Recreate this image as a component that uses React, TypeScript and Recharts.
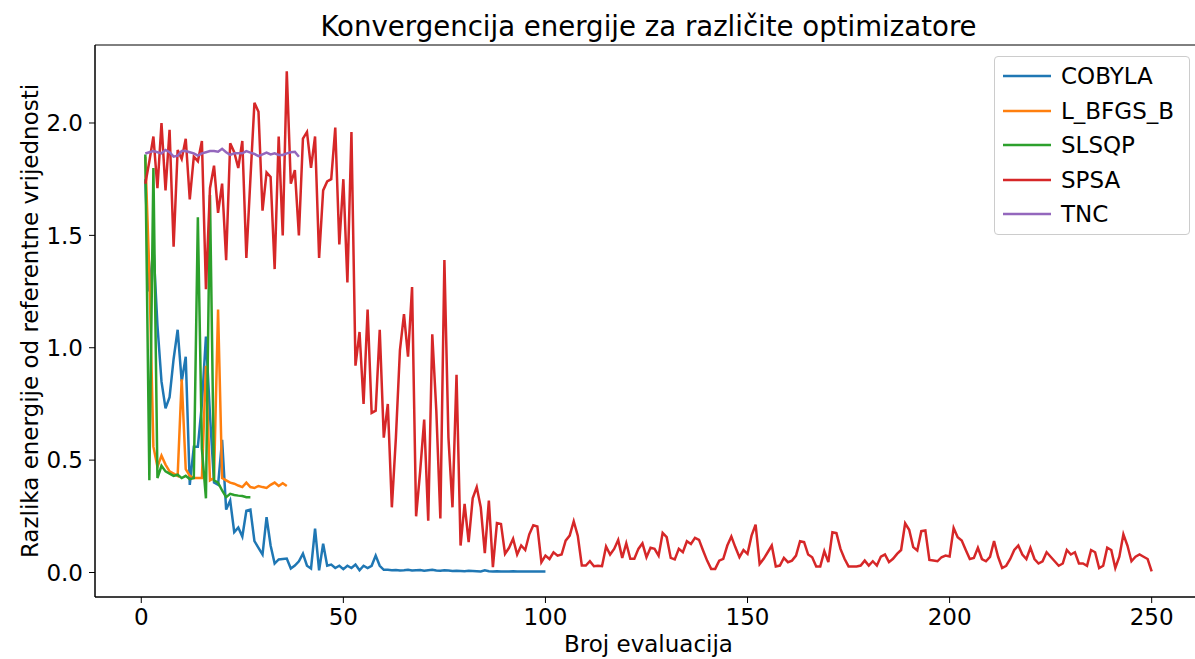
import React from "react";
import { LineChart, Line, XAxis, YAxis, ReferenceArea, Label } from "recharts";

const FONT = '"DejaVu Sans", "Liberation Sans", sans-serif';

// x ticks / y ticks
const xTicks = [0, 50, 100, 150, 200, 250];
const yTicks = [0, 0.5, 1, 1.5, 2];

// values, one per evaluation (x = 1, 2, 3 ...)
const cobyla = [
  1.75, 1.25, 1.45, 1.1, 0.85, 0.73, 0.78, 0.95, 1.08, 0.85,
  0.96, 0.39, 0.56, 0.56, 0.75, 1.05, 0.7, 0.4, 0.39, 0.59,
  0.28, 0.32, 0.18, 0.2, 0.16, 0.275, 0.28, 0.14, 0.11, 0.08,
  0.246, 0.12, 0.04, 0.058, 0.06, 0.062, 0.018, 0.031, 0.05, 0.084,
  0.03, 0.018, 0.195, 0.01, 0.128, 0.03, 0.035, 0.02, 0.03, 0.015,
  0.03, 0.02, 0.035, 0.01, 0.03, 0.02, 0.03, 0.075, 0.03, 0.012,
  0.012, 0.01, 0.011, 0.009, 0.01, 0.012, 0.009, 0.01, 0.011, 0.008,
  0.01, 0.012, 0.009, 0.008, 0.01, 0.009, 0.007, 0.008, 0.007, 0.006,
  0.008, 0.007, 0.006, 0.005, 0.01, 0.006, 0.005, 0.006, 0.005, 0.004,
  0.005, 0.006, 0.004, 0.004, 0.005, 0.004, 0.004, 0.005, 0.004, 0.004,
];

const lbfgsb = [
  1.85, 1.33, 0.56, 0.47, 0.52, 0.48, 0.45, 0.44, 0.43, 0.86,
  0.46, 0.43, 0.42, 0.42, 0.42, 0.92, 0.41, 0.42, 1.17, 0.42,
  0.41, 0.4, 0.395, 0.387, 0.38, 0.4, 0.38, 0.376, 0.385, 0.38,
  0.376, 0.39, 0.4, 0.385, 0.397, 0.385,
];

const slsqp = [
  1.86, 0.41, 1.8, 0.42, 0.475, 0.45, 0.44, 0.43, 0.435, 0.42,
  0.43, 0.415, 0.42, 1.58, 0.55, 0.33, 1.68, 0.41, 0.4, 0.365,
  0.335, 0.35, 0.345, 0.342, 0.34, 0.335, 0.335,
];

const spsa = [
  1.73, 1.83, 1.94, 1.71, 2.0, 1.7, 1.97, 1.45, 1.88, 1.84,
  1.93, 1.66, 1.85, 1.83, 1.92, 1.26, 1.71, 1.81, 1.6, 1.73,
  1.39, 1.91, 1.87, 1.8, 1.92, 1.4, 1.75, 2.09, 2.05, 1.61,
  1.78, 1.76, 1.35, 1.94, 1.5, 2.23, 1.73, 1.79, 1.5, 1.93,
  1.96, 1.8, 1.94, 1.4, 1.7, 1.74, 1.75, 1.98, 1.46, 1.75,
  1.29, 1.96, 0.92, 1.07, 0.75, 1.17, 0.71, 0.72, 1.08, 0.6,
  0.75, 0.29, 0.6, 0.99, 1.15, 0.96, 1.27, 0.25, 0.45, 0.68,
  0.23, 1.06, 0.72, 0.24, 1.39, 0.6, 0.29, 0.88, 0.12, 0.305,
  0.135, 0.33, 0.38, 0.29, 0.086, 0.32, 0.024, 0.22, 0.216, 0.083,
  0.11, 0.15, 0.08, 0.12, 0.1, 0.17, 0.21, 0.205, 0.046, 0.075,
  0.06, 0.09, 0.075, 0.08, 0.142, 0.164, 0.228, 0.164, 0.031, 0.031,
  0.05, 0.028, 0.03, 0.028, 0.116, 0.08, 0.105, 0.145, 0.065, 0.13,
  0.061, 0.061, 0.105, 0.13, 0.068, 0.11, 0.105, 0.075, 0.176, 0.157,
  0.065, 0.058, 0.105, 0.09, 0.139, 0.127, 0.154, 0.145, 0.098, 0.053,
  0.016, 0.016, 0.053, 0.061, 0.12, 0.16, 0.112, 0.068, 0.1, 0.083,
  0.164, 0.213, 0.038, 0.061, 0.09, 0.12, 0.027, 0.031, 0.065, 0.046,
  0.053, 0.075, 0.139, 0.135, 0.08, 0.068, 0.027, 0.027, 0.095, 0.046,
  0.179, 0.175, 0.105, 0.061, 0.027, 0.027, 0.027, 0.031, 0.053, 0.031,
  0.05, 0.031, 0.071, 0.08, 0.046, 0.061, 0.083, 0.1, 0.219, 0.19,
  0.113, 0.098, 0.184, 0.187, 0.056, 0.053, 0.05, 0.068, 0.075, 0.071,
  0.198, 0.157, 0.142, 0.1, 0.06, 0.065, 0.11, 0.06, 0.05, 0.07,
  0.14, 0.07, 0.02, 0.03, 0.06, 0.1, 0.12, 0.08, 0.06, 0.11,
  0.06, 0.04, 0.05, 0.09, 0.07, 0.05, 0.03, 0.04, 0.1, 0.08,
  0.09, 0.04, 0.04, 0.03, 0.1, 0.09, 0.02, 0.03, 0.11, 0.1,
  0.02, 0.07, 0.17, 0.12, 0.05, 0.07, 0.08, 0.07, 0.06, 0.005,
];

const tnc = [
  1.864, 1.87, 1.875, 1.87, 1.865, 1.88, 1.87, 1.85, 1.855, 1.875,
  1.875, 1.87, 1.865, 1.855, 1.865, 1.87, 1.875, 1.875, 1.872, 1.885,
  1.87, 1.858, 1.865, 1.865, 1.865, 1.875, 1.868, 1.862, 1.853, 1.86,
  1.868, 1.86, 1.865, 1.858, 1.858, 1.865, 1.87, 1.872, 1.85,
];

const series = [
  { name: "COBYLA", color: "#1f77b4", values: cobyla },
  { name: "L_BFGS_B", color: "#ff7f0e", values: lbfgsb },
  { name: "SLSQP", color: "#2ca02c", values: slsqp },
  { name: "SPSA", color: "#d62728", values: spsa },
  { name: "TNC", color: "#9467bd", values: tnc },
];

const toPoints = (values: number[]) => values.map((y, i) => ({ x: i + 1, y }));

// matplotlib-like 5% margins around the data
const X_DOMAIN: [number, number] = [-11.45, 262.45];
const Y_DOMAIN: [number, number] = [-0.109, 2.347];

const tickStyle = { fontSize: 23, fill: "#000", fontFamily: FONT };

function LegendBox() {
  return (
    <div
      style={{
        position: "absolute",
        left: 994,
        top: 56,
        width: 196,
        height: 179,
        boxSizing: "border-box",
        border: "1px solid #cccccc",
        borderRadius: 4,
        background: "rgba(255,255,255,0.8)",
        fontFamily: FONT,
        fontSize: 23,
        color: "#000",
      }}
    >
      {series.map((s, i) => (
        <div
          key={s.name}
          style={{ position: "absolute", left: 0, top: 19 + i * 34.6 - 17, height: 34, display: "flex", alignItems: "center" }}
        >
          <svg width={66} height={34} style={{ display: "block" }}>
            <line x1={8} x2={56} y1={17} y2={17} stroke={s.color} strokeWidth={2.5} />
          </svg>
          <span style={{ whiteSpace: "nowrap" }}>{s.name}</span>
        </div>
      ))}
    </div>
  );
}

export default function App() {
  return (
    <div
      style={{
        position: "fixed",
        left: 0,
        top: 0,
        width: 1195,
        height: 659,
        overflow: "hidden",
        background: "#fff",
        fontFamily: FONT,
      }}
    >
      <div
        style={{
          position: "absolute",
          left: 95,
          width: 1107,
          top: 13,
          textAlign: "center",
          fontSize: 27.6,
          lineHeight: 1,
          color: "#000",
          whiteSpace: "nowrap",
        }}
      >
        Konvergencija energije za različite optimizatore
      </div>
      <LineChart width={1220} height={659} margin={{ top: 45, right: 18, bottom: 0, left: 0 }}>
        <XAxis
          dataKey="x"
          type="number"
          domain={X_DOMAIN}
          ticks={xTicks}
          allowDataOverflow
          height={62}
          tick={tickStyle}
          tickSize={6}
          tickMargin={6}
          tickLine={{ stroke: "#000" }}
          axisLine={{ stroke: "#000" }}
        >
          <Label
            value="Broj evaluacija"
            position="insideBottom"
            offset={7}
            style={{ fontSize: 23, fill: "#000", fontFamily: FONT }}
          />
        </XAxis>
        <YAxis
          type="number"
          domain={Y_DOMAIN}
          ticks={yTicks}
          allowDataOverflow
          width={95}
          tick={tickStyle}
          tickSize={6}
          tickMargin={6}
          tickLine={{ stroke: "#000" }}
          axisLine={{ stroke: "#000" }}
          tickFormatter={(v: number) => v.toFixed(1)}
        >
          <Label
            value="Razlika energije od referentne vrijednosti"
            angle={-90}
            position="insideLeft"
            offset={30}
            style={{ fontSize: 23, fill: "#000", fontFamily: FONT, textAnchor: "middle" }}
          />
        </YAxis>
        <ReferenceArea
          x1={X_DOMAIN[0]}
          x2={X_DOMAIN[1]}
          y1={Y_DOMAIN[0]}
          y2={Y_DOMAIN[1]}
          fill="none"
          fillOpacity={0}
          stroke="#000"
          strokeWidth={1}
          strokeOpacity={1}
        />
        {series.map((s) => (
          <Line
            key={s.name}
            data={toPoints(s.values)}
            dataKey="y"
            name={s.name}
            type="linear"
            stroke={s.color}
            strokeWidth={2.5}
            dot={false}
            activeDot={false}
            isAnimationActive={false}
          />
        ))}
      </LineChart>
      <LegendBox />
    </div>
  );
}
